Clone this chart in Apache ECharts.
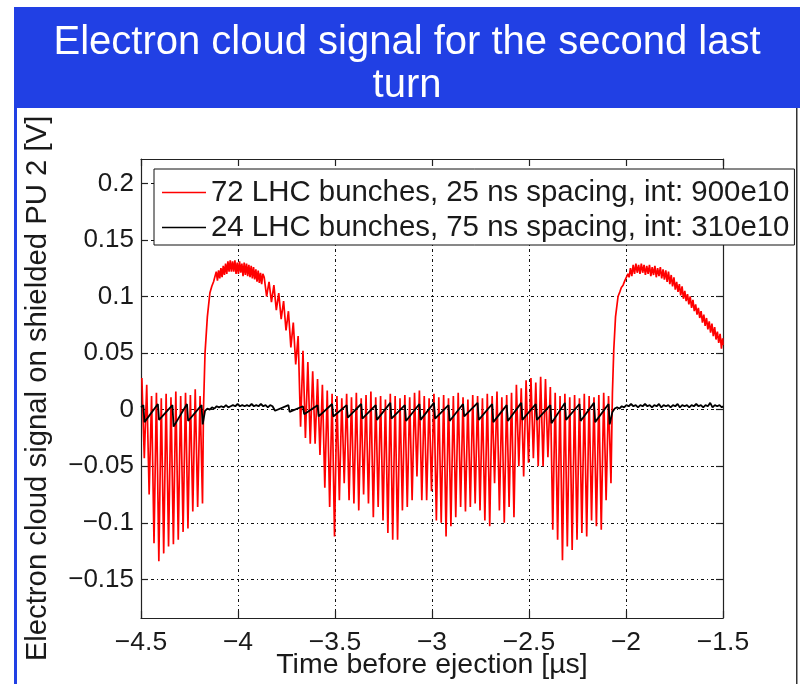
<!DOCTYPE html>
<html>
<head>
<meta charset="utf-8">
<title>Electron cloud signal for the second last turn</title>
<script src="https://cdn.jsdelivr.net/npm/echarts@6/dist/echarts.min.js"></script>
<style>
  html, body { margin: 0; padding: 0; background: #ffffff; }
  #chart { width: 800px; height: 684px; }
</style>
</head>
<body>
<div id="chart"></div>
<script>
// ---- Axis ticks ----------------------------------------------------------
const xTicks = [-4.5, -4, -3.5, -3, -2.5, -2, -1.5];
const yTicks = [-0.15, -0.1, -0.05, 0, 0.05, 0.1, 0.15, 0.2];

// ---- Series names ----------------------------------------------------------
const seriesNames = [
  '72 LHC bunches, 25 ns spacing, int: 900e10',
  '24 LHC bunches, 75 ns spacing, int: 310e10'
];

// ---- 72 bunches, 25 ns spacing (red) ----------------------------------------
const SPACING_25NS = 0.025;   // µs
const SPACING_75NS = 0.075;   // µs

// tail of the preceding train, one value pair per bunch passage
const red1Start = -4.4955;
const red1Tops = [0.028, 0.022, 0.012, 0.015, 0.010, 0.014, 0.011, 0.016, 0.012, 0.015, 0.013, 0.018, 0.012];
const red1Dips = [-0.043, -0.075, -0.118, -0.134, -0.127, -0.121, -0.119, -0.115, -0.108, -0.105, -0.090, -0.086, -0.083];

// build-up after the gap and the first plateau
const red1Rise = [[-4.178, 0.000], [-4.170, 0.050], [-4.158, 0.082], [-4.145, 0.103], [-4.135, 0.109], [-4.126, 0.113]];
const red1Plateau = [
  [-4.118, 0.114], [-4.112, 0.122], [-4.106, 0.114], [-4.100, 0.123], [-4.094, 0.116], [-4.088, 0.125],
  [-4.082, 0.117], [-4.076, 0.127], [-4.070, 0.119], [-4.064, 0.129], [-4.058, 0.120], [-4.052, 0.131],
  [-4.046, 0.122], [-4.040, 0.132], [-4.034, 0.122], [-4.028, 0.131], [-4.022, 0.122], [-4.016, 0.132],
  [-4.010, 0.120], [-4.004, 0.130], [-3.998, 0.120], [-3.992, 0.131], [-3.986, 0.121], [-3.980, 0.129],
  [-3.974, 0.118], [-3.968, 0.130], [-3.962, 0.119], [-3.956, 0.129], [-3.950, 0.118], [-3.944, 0.128],
  [-3.938, 0.117], [-3.932, 0.127], [-3.926, 0.116], [-3.920, 0.126], [-3.914, 0.115], [-3.908, 0.124],
  [-3.902, 0.113], [-3.896, 0.123], [-3.890, 0.112], [-3.884, 0.121], [-3.878, 0.111], [-3.872, 0.120]
];

// the 72-bunch train
const red2Start = -3.865;
const red2Tops = [
  0.117, 0.113, 0.110, 0.103, 0.096, 0.087, 0.077, 0.065, 0.052, 0.042, 0.034, 0.027, 0.022, 0.017, 0.014,
  0.012, 0.010, 0.014, 0.011, 0.015, 0.010, 0.013, 0.016, 0.011, 0.012, 0.009, 0.014, 0.012, 0.010, 0.013,
  0.011, 0.015, 0.017, 0.012, 0.010, 0.014, 0.011, 0.013, 0.010, 0.012, 0.015, 0.011, 0.009, 0.013, 0.012,
  0.010, 0.014, 0.012, 0.016, 0.011, 0.013, 0.015,
  0.022, 0.019, 0.026, 0.028, 0.024, 0.029, 0.027, 0.020,
  0.015, 0.012, 0.014, 0.011, 0.013, 0.010, 0.014, 0.012, 0.011, 0.013, 0.015, 0.012
];
const red2Dips = [
  0.100, 0.095, 0.088, 0.080, 0.070, 0.055, 0.040,
  -0.015, -0.025, -0.030, -0.030, -0.040, -0.069, -0.086, -0.112,
  -0.080, -0.065, -0.080, -0.083, -0.089, -0.075, -0.083, -0.095, -0.086, -0.098, -0.109, -0.115, -0.115,
  -0.089, -0.086, -0.080, -0.059, -0.080, -0.080, -0.072, -0.098, -0.100, -0.112, -0.103, -0.095, -0.086,
  -0.090, -0.086, -0.083, -0.089, -0.098, -0.103, -0.065, -0.089, -0.100, -0.086, -0.095, -0.050, -0.059,
  -0.047, -0.043, -0.050, -0.050, -0.042, -0.106, -0.115, -0.133, -0.121, -0.124, -0.115, -0.109, -0.112,
  -0.098, -0.103, -0.106, -0.080, -0.065
];

// build-up after the train and the second plateau
const red2Rise = [[-2.070, 0.015], [-2.063, 0.053], [-2.054, 0.082], [-2.041, 0.100], [-2.032, 0.104],
                  [-2.024, 0.108], [-2.015, 0.110], [-2.006, 0.114], [-1.998, 0.117], [-1.990, 0.120]];
const red2Plateau = [
  [-1.984, 0.117], [-1.977, 0.125], [-1.970, 0.118], [-1.963, 0.128], [-1.956, 0.120], [-1.949, 0.129],
  [-1.942, 0.121], [-1.935, 0.128], [-1.928, 0.120], [-1.921, 0.129], [-1.914, 0.121], [-1.907, 0.128],
  [-1.900, 0.119], [-1.893, 0.127], [-1.886, 0.120], [-1.879, 0.128], [-1.872, 0.118], [-1.865, 0.126],
  [-1.858, 0.119], [-1.851, 0.127], [-1.844, 0.117], [-1.837, 0.125], [-1.830, 0.118], [-1.823, 0.126],
  [-1.816, 0.116], [-1.809, 0.124], [-1.802, 0.115], [-1.795, 0.123], [-1.788, 0.113], [-1.781, 0.122],
  [-1.774, 0.111], [-1.767, 0.119], [-1.760, 0.109], [-1.753, 0.117], [-1.746, 0.106], [-1.739, 0.113],
  [-1.732, 0.104], [-1.725, 0.111], [-1.718, 0.101], [-1.711, 0.109], [-1.704, 0.098], [-1.697, 0.105],
  [-1.690, 0.096], [-1.683, 0.102], [-1.676, 0.093], [-1.669, 0.100], [-1.662, 0.090], [-1.655, 0.097],
  [-1.648, 0.087], [-1.641, 0.093], [-1.634, 0.084], [-1.627, 0.090], [-1.620, 0.081], [-1.613, 0.087],
  [-1.606, 0.077], [-1.599, 0.084], [-1.592, 0.074], [-1.585, 0.081], [-1.578, 0.071], [-1.571, 0.078],
  [-1.564, 0.068], [-1.557, 0.076], [-1.550, 0.065], [-1.543, 0.073], [-1.536, 0.062], [-1.529, 0.069],
  [-1.522, 0.059], [-1.515, 0.067], [-1.508, 0.054], [-1.502, 0.063], [-1.500, 0.057]
];

// ---- 24 bunches, 75 ns spacing (black) --------------------------------------
const blackLead = [[-4.500, 0.002]];
const black1Start = -4.488;
const black1Tops = [0.004, 0.005, 0.004, 0.005, 0.004];
const black1Dips = [-0.011, -0.009, -0.015, -0.010, -0.013];
const blackFlat1 = [
  [-4.170, -0.001], [-4.158, 0.001], [-4.146, 0.000], [-4.134, 0.002], [-4.122, 0.001], [-4.110, 0.003],
  [-4.098, 0.002], [-4.086, 0.003], [-4.074, 0.002], [-4.062, 0.004], [-4.050, 0.002], [-4.038, 0.003],
  [-4.026, 0.004], [-4.014, 0.003], [-4.002, 0.005], [-3.990, 0.003], [-3.978, 0.004], [-3.966, 0.003],
  [-3.954, 0.004], [-3.942, 0.003], [-3.930, 0.005], [-3.918, 0.003], [-3.906, 0.004], [-3.894, 0.003],
  [-3.882, 0.005], [-3.870, 0.003], [-3.858, 0.004], [-3.846, 0.002], [-3.834, 0.004], [-3.822, 0.003]
];
const black2Start = -3.815;
const black2Tops = [0.003, 0.004, 0.003, 0.004, 0.005, 0.004, 0.005, 0.004, 0.006, 0.004, 0.005, 0.006,
                    0.004, 0.005, 0.006, 0.005, 0.004, 0.006, 0.005, 0.004, 0.006, 0.005, 0.006, 0.005];
const black2Dips = [-0.001, -0.002, -0.004, -0.006, -0.006, -0.007, -0.008, -0.009, -0.008, -0.010, -0.009, -0.008,
                    -0.010, -0.006, -0.009, -0.011, -0.010, -0.009, -0.009, -0.012, -0.009, -0.010, -0.011, -0.013];
const blackFlat2 = [
  [-2.070, -0.002], [-2.058, 0.001], [-2.046, 0.002], [-2.034, 0.001], [-2.022, 0.003], [-2.010, 0.002],
  [-1.998, 0.004], [-1.986, 0.003], [-1.974, 0.005], [-1.962, 0.003], [-1.950, 0.004], [-1.938, 0.002],
  [-1.926, 0.004], [-1.914, 0.003], [-1.902, 0.005], [-1.890, 0.003], [-1.878, 0.004], [-1.866, 0.002],
  [-1.854, 0.004], [-1.842, 0.003], [-1.830, 0.005], [-1.818, 0.002], [-1.806, 0.004], [-1.794, 0.003],
  [-1.782, 0.004], [-1.770, 0.002], [-1.758, 0.004], [-1.746, 0.003], [-1.734, 0.005], [-1.722, 0.002],
  [-1.710, 0.004], [-1.698, 0.003], [-1.686, 0.004], [-1.674, 0.002], [-1.662, 0.004], [-1.650, 0.003],
  [-1.638, 0.005], [-1.626, 0.003], [-1.614, 0.004], [-1.602, 0.002], [-1.590, 0.004], [-1.578, 0.003],
  [-1.566, 0.006], [-1.554, 0.002], [-1.542, 0.004], [-1.530, 0.003], [-1.518, 0.004], [-1.506, 0.002],
  [-1.500, 0.003]
];

// One [time, level] pair at each bunch arrival and one at the bottom of its spike.
function bunchTrain(start, spacing, tops, dips, dipDelay) {
  const pts = [];
  tops.forEach(function (top, i) {
    const t = start + i * spacing;
    pts.push([t, top], [t + dipDelay, dips[i]]);
  });
  return pts;
}

const redData = [].concat(
  bunchTrain(red1Start, SPACING_25NS, red1Tops, red1Dips, 0.0125),
  red1Rise, red1Plateau,
  bunchTrain(red2Start, SPACING_25NS, red2Tops, red2Dips, 0.0125),
  red2Rise, red2Plateau
);
const blackData = [].concat(
  blackLead,
  bunchTrain(black1Start, SPACING_75NS, black1Tops, black1Dips, 0.006),
  blackFlat1,
  bunchTrain(black2Start, SPACING_75NS, black2Tops, black2Dips, 0.006),
  blackFlat2
);

// ---- Styling -------------------------------------------------------------
const SANS = "'Liberation Sans', Arial, Helvetica, sans-serif";
const BLUE = '#2140e4';
const AXIS_COLOR = '#222222';
const GRID_DASH = [3, 3, 1, 3];

function minusLabel(v) {
  if (Math.abs(v) < 1e-12) return '0';
  const s = String(Math.abs(+v.toFixed(4)));
  return v < 0 ? '\u2212' + s : s;
}

const chart = echarts.init(document.getElementById('chart'), null, { renderer: 'canvas' });

const xBase = {
  type: 'value', min: -4.5, max: -1.5, interval: 0.5,
  axisLine: { show: true, onZero: false, lineStyle: { color: AXIS_COLOR, width: 1.2 } },
  axisTick: { show: true, inside: true, length: 7, lineStyle: { color: AXIS_COLOR, width: 1.2 } }
};
const yBase = {
  type: 'value', min: -0.1841, max: 0.2215,
  axisLine: { show: true, onZero: false, lineStyle: { color: AXIS_COLOR, width: 1.2 } },
  axisTick: { show: true, inside: true, length: 7, customValues: yTicks, lineStyle: { color: AXIS_COLOR, width: 1.2 } }
};

chart.setOption({
  animation: false,
  backgroundColor: '#ffffff',
  grid: { left: 141, right: 77, top: 159, bottom: 66, containLabel: false, outerBoundsMode: 'none' },
  graphic: [
    { type: 'rect', silent: true, z: 0, shape: { x: 14, y: 7, width: 786, height: 101 }, style: { fill: BLUE } },
    { type: 'rect', silent: true, z: 0, shape: { x: 14, y: 108, width: 3, height: 576 }, style: { fill: BLUE } },
    { type: 'rect', silent: true, z: 0, shape: { x: 796, y: 108, width: 1.5, height: 576 }, style: { fill: '#333333' } },
    { type: 'text', silent: true, z: 1, x: 407, y: 43,
      style: { text: 'Electron cloud signal for the second last', fill: '#ffffff',
               font: '40px ' + SANS, align: 'center', verticalAlign: 'middle' } },
    { type: 'text', silent: true, z: 1, x: 407, y: 86,
      style: { text: 'turn', fill: '#ffffff', font: '40px ' + SANS, align: 'center', verticalAlign: 'middle' } }
  ],
  legend: {
    orient: 'vertical', left: 154, top: 169,
    backgroundColor: '#ffffff', borderColor: '#111111', borderWidth: 1,
    padding: [6, 5, 0, 8], itemGap: 0, itemWidth: 44, itemHeight: 1.5, icon: 'rect',
    textStyle: { fontFamily: SANS, fontSize: 29.4, color: '#1a1a1a', lineHeight: 35 },
    data: seriesNames
  },
  xAxis: [
    Object.assign({}, xBase, {
      position: 'bottom',
      name: 'Time before ejection [\u00b5s]', nameLocation: 'middle', nameGap: 33, nameMoveOverlap: false,
      nameTextStyle: { fontFamily: SANS, fontSize: 28.5, color: '#1a1a1a' },
      axisLabel: { show: true, margin: 11, fontFamily: SANS, fontSize: 26.5, color: '#1a1a1a', formatter: minusLabel },
      splitLine: { show: true, lineStyle: { color: '#111111', width: 1, type: GRID_DASH } }
    }),
    Object.assign({}, xBase, {
      position: 'top', axisLabel: { show: false }, splitLine: { show: false }
    })
  ],
  yAxis: [
    Object.assign({}, yBase, {
      position: 'left',
      name: 'Electron cloud signal on shielded PU 2 [V]', nameLocation: 'middle', nameGap: 89, nameRotate: 90,
      nameMoveOverlap: false,
      nameTextStyle: { fontFamily: SANS, fontSize: 29.3, color: '#1a1a1a' },
      axisLabel: { show: true, margin: 7, customValues: yTicks, fontFamily: SANS, fontSize: 26, color: '#1a1a1a', formatter: minusLabel },
      splitLine: { show: true, lineStyle: { color: '#111111', width: 1, type: GRID_DASH } }
    }),
    Object.assign({}, yBase, {
      position: 'right', axisLabel: { show: false }, splitLine: { show: false }
    })
  ],
  series: [
    {
      name: seriesNames[0], type: 'line', data: redData, xAxisIndex: 0, yAxisIndex: 0,
      showSymbol: false, symbol: 'none', clip: true, z: 3,
      lineStyle: { color: '#ff0000', width: 1.7 }, itemStyle: { color: '#ff0000' }
    },
    {
      name: seriesNames[1], type: 'line', data: blackData, xAxisIndex: 0, yAxisIndex: 0,
      showSymbol: false, symbol: 'none', clip: true, z: 4,
      lineStyle: { color: '#000000', width: 1.8 }, itemStyle: { color: '#000000' }
    }
  ]
});
</script>
</body>
</html>
